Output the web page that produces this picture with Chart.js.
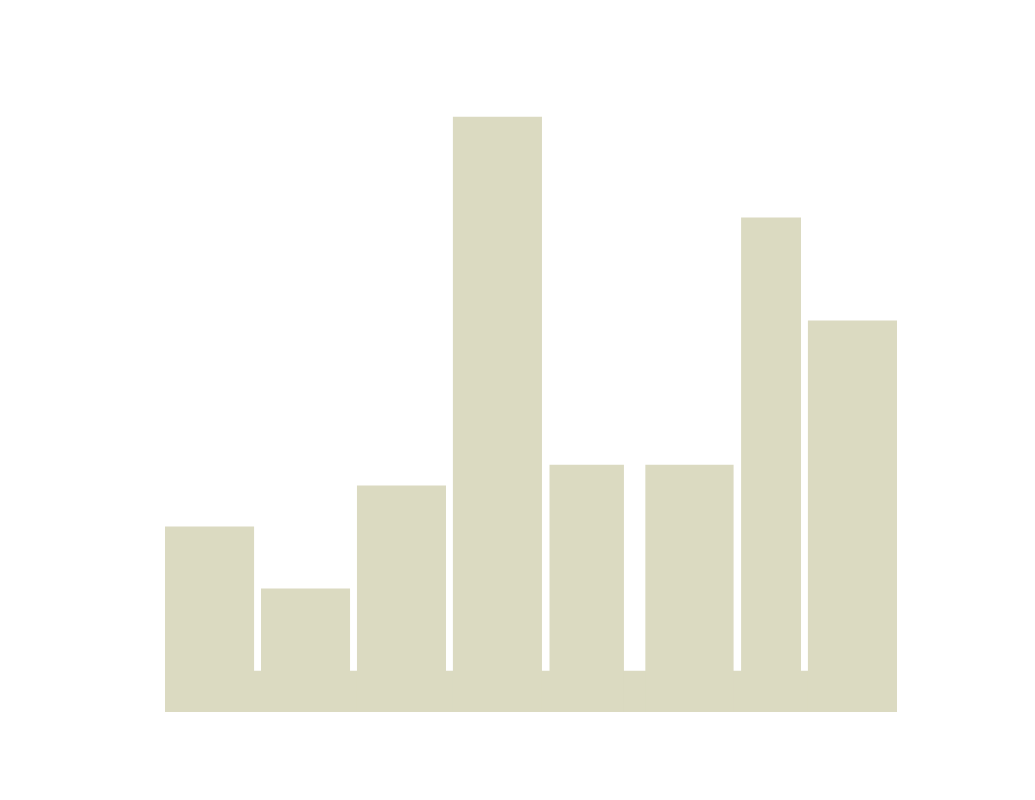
<!DOCTYPE html>
<html>
<head>
<meta charset="utf-8">
<script src="https://cdn.jsdelivr.net/npm/chart.js@4/dist/chart.umd.min.js"></script>
<style>
  body { margin: 0; background: #ffffff; }
  canvas { display: block; }
</style>
</head>
<body>
<canvas id="chart" width="1035" height="800"></canvas>
<script>
// bins (x units, 0..100) and heights
const binStart = [0, 13.1, 26.2, 39.3, 52.5, 65.6, 78.7, 87.8];
const binEnd = [12.2, 25.3, 38.4, 51.5, 62.7, 77.7, 86.9, 100];
const barHeights = [9, 6, 11, 28.9, 12, 12, 24, 19];
const baseRange = [0, 100];
const baseHeight = 2;

const fillColor = "#dbdac1";

const makeBlock = (x0, x1, h) => {
  return {
    data: [{ x: x0, y: h }, { x: x1, y: h }],
    fill: "origin",
    backgroundColor: fillColor,
    borderWidth: 0,
    pointRadius: 0,
  };
};

let datasets = [];
barHeights.forEach((h, i) => {
  datasets = [...datasets, makeBlock(binStart[i], binEnd[i], h)];
});
// the strip along the bottom
datasets = [...datasets, makeBlock(baseRange[0], baseRange[1], baseHeight)];

new Chart(document.getElementById("chart"), {
  type: "line",
  data: { datasets: datasets },
  options: {
    responsive: false,
    animation: false,
    devicePixelRatio: 1,
    layout: { padding: { left: 165, right: 138, top: 94, bottom: 88 } },
    plugins: { legend: { display: false }, tooltip: { enabled: false } },
    scales: {
      x: { type: "linear", min: 0, max: 100, display: false },
      y: { min: 0, max: 30, display: false },
    },
  },
});
</script>
</body>
</html>
